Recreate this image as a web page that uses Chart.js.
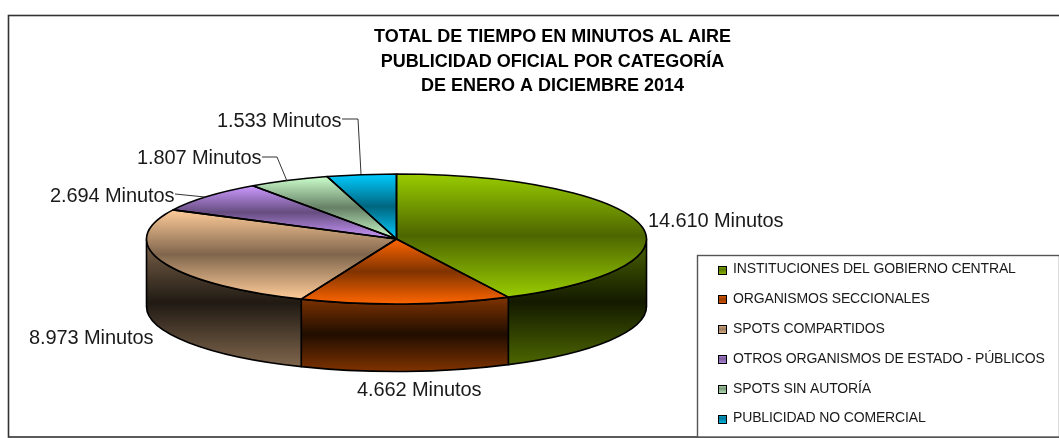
<!DOCTYPE html>
<html><head><meta charset="utf-8">
<style>html,body{margin:0;padding:0;background:#fff}#w{width:1059px;height:438px;position:relative}</style>
<script src="https://cdn.jsdelivr.net/npm/chart.js@4/dist/chart.umd.min.js"></script>
</head><body><div id="w"><canvas id="c" width="1059" height="438"></canvas></div>
<script>
const titleLines = ['TOTAL DE TIEMPO EN MINUTOS AL AIRE','PUBLICIDAD OFICIAL POR CATEGORÍA','DE ENERO A DICIEMBRE 2014'];
const categories = ['INSTITUCIONES DEL GOBIERNO CENTRAL','ORGANISMOS SECCIONALES','SPOTS COMPARTIDOS','OTROS ORGANISMOS DE ESTADO - PÚBLICOS','SPOTS SIN AUTORÍA','PUBLICIDAD NO COMERCIAL'];
const minutes = [14610,4662,8973,2694,1807,1533];
const dataLabels = ['14.610 Minutos','4.662 Minutos','8.973 Minutos','2.694 Minutos','1.807 Minutos','1.533 Minutos'];
const baseColors = [[153,204,0],[255,102,0],[255,204,153],[204,153,255],[204,255,204],[0,204,255]];

// layout of the 3D pie on the page
const PIE = {cx:396.5, cy:239, rx:250, ry:65, depth:67.5};
const labelPos = [[648,227],[357,396],[29,343.5],[50,201.5],[137,164],[217,126.5]];
const leaders = {3:[[175,194],[205,197]],4:[[262,157],[277,157],[287,181]],5:[[342,119],[358,119],[361,174]]};
const LEG = {x:697.5,y:255.5,w:362,h:181.5,sx:718,tx:733,first:269.5,step:29.8};

const rgb=(c,f)=>`rgb(${Math.round(c[0]*f)},${Math.round(c[1]*f)},${Math.round(c[2]*f)})`;
const total=minutes.reduce((a,b)=>a+b,0);
function sliceAngles(i){ let s=0; for(let k=0;k<i;k++) s+=minutes[k]; return [s/total*2*Math.PI-Math.PI/2,(s+minutes[i])/total*2*Math.PI-Math.PI/2]; }
function yExtent(a0,a1,withCentre){
  let lo=Math.min(Math.sin(a0),Math.sin(a1)),hi=Math.max(Math.sin(a0),Math.sin(a1));
  for(let k=-1;k<4;k++){const a=Math.PI/2+k*Math.PI; if(a>a0&&a<a1){const s=Math.sin(a);lo=Math.min(lo,s);hi=Math.max(hi,s);}}
  if(withCentre){lo=Math.min(lo,0);hi=Math.max(hi,0);}
  return [lo,hi];
}
function sliceFill(ctx){
  const ch=ctx.chart,a=ch.chartArea,i=ctx.dataIndex;
  if(!a||i===undefined) return rgb(baseColors[i||0],1);
  const R=Math.min(a.width,a.height)/2,cy=(a.top+a.bottom)/2;
  const [s,e]=sliceAngles(i),[lo,hi]=yExtent(s,e,true);
  const g=ch.ctx.createLinearGradient(0,cy+lo*R,0,cy+hi*R);
  g.addColorStop(0,rgb(baseColors[i],1));g.addColorStop(.5,rgb(baseColors[i],.5));g.addColorStop(1,rgb(baseColors[i],1));
  return g;
}
const pie3d={id:'pie3d',
  beforeDatasetsDraw(chart){
    const c=chart.ctx,els=chart.getDatasetMeta(0).data,P=PIE;
    c.save();
    c.lineWidth=1.6;c.strokeStyle='#000';c.lineJoin='round';
    els.forEach((el,i)=>{
      const a0=Math.max(el.startAngle,0),a1=Math.min(el.endAngle,Math.PI);
      if(a1<=a0) return;
      const [lo,hi]=yExtent(a0,a1,false);
      const g=c.createLinearGradient(0,P.cy+lo*P.ry,0,P.cy+hi*P.ry+P.depth);
      g.addColorStop(0,rgb(baseColors[i],.5));g.addColorStop(.5,rgb(baseColors[i],.125));g.addColorStop(1,rgb(baseColors[i],.5));
      c.beginPath();
      c.ellipse(P.cx,P.cy,P.rx,P.ry,0,a0,a1);
      c.ellipse(P.cx,P.cy+P.depth,P.rx,P.ry,0,a1,a0,true);
      c.closePath();
      c.fillStyle=g;c.fill();c.stroke();
    });
    c.restore();
    const R=els[0].outerRadius;
    c.save();
    c.translate(P.cx,P.cy);c.scale(P.rx/R,P.ry/R);c.translate(-els[0].x,-els[0].y);
  },
  afterDatasetsDraw(chart){
    const c=chart.ctx,els=chart.getDatasetMeta(0).data,P=PIE;
    c.restore();
    c.save();c.lineWidth=1.6;c.strokeStyle='#000';c.lineJoin='round';
    els.forEach(el=>{
      c.beginPath();c.moveTo(P.cx,P.cy);
      c.ellipse(P.cx,P.cy,P.rx,P.ry,0,el.startAngle,el.endAngle);
      c.closePath();c.stroke();
    });
    c.restore();
  },
  afterDraw(chart){
    const c=chart.ctx;
    c.save();
    // outer frame
    c.strokeStyle='#333';c.lineWidth=1.6;c.strokeRect(8.5,15.5,1060,421.5);
    // data labels and leader lines
    c.fillStyle='#1a1a1a';c.font='20px "Liberation Sans"';c.letterSpacing='-0.1px';c.textBaseline='alphabetic';c.textAlign='left';
    dataLabels.forEach((t,i)=>c.fillText(t,labelPos[i][0],labelPos[i][1]));
    c.strokeStyle='#333';c.lineWidth=1;
    Object.values(leaders).forEach(pts=>{c.beginPath();pts.forEach((p,k)=>k?c.lineTo(p[0],p[1]):c.moveTo(p[0],p[1]));c.stroke();});
    // legend
    const L=LEG;
    c.fillStyle='#fff';c.strokeStyle='#555';c.lineWidth=1.4;c.fillRect(L.x,L.y,L.w,L.h);c.strokeRect(L.x,L.y,L.w,L.h);
    c.font='14px "Liberation Sans"';c.letterSpacing='-0.15px';c.textBaseline='middle';
    c.lineWidth=1;
    categories.forEach((t,i)=>{
      const y=L.first+i*L.step;
      const g=c.createLinearGradient(0,y-4,0,y+4);
      g.addColorStop(0,rgb(baseColors[i],.85));g.addColorStop(.5,rgb(baseColors[i],.6));g.addColorStop(1,rgb(baseColors[i],.85));
      c.fillStyle=g;c.fillRect(L.sx+.5,Math.round(y-4)+.5,8,8);
      c.strokeStyle='#000';c.strokeRect(L.sx+.5,Math.round(y-4)+.5,8,8);
      c.fillStyle='#1a1a1a';c.fillText(t,L.tx,y);
    });
    c.restore();
  }
};
Chart.defaults.animation=false;
new Chart(document.getElementById('c'),{
  type:'pie',
  data:{labels:categories,datasets:[{data:minutes,backgroundColor:sliceFill,borderWidth:0,clip:false}]},
  options:{responsive:false,animation:false,events:[],
    layout:{padding:{left:46,right:0,top:0,bottom:0}},
    plugins:{legend:{display:false},tooltip:{enabled:false},
      title:{display:true,text:titleLines,color:'#000',font:{family:'"Liberation Sans"',size:18,weight:'bold',lineHeight:1.356},padding:{top:25,bottom:0}}}
  },
  plugins:[pie3d]
});
</script></body></html>
